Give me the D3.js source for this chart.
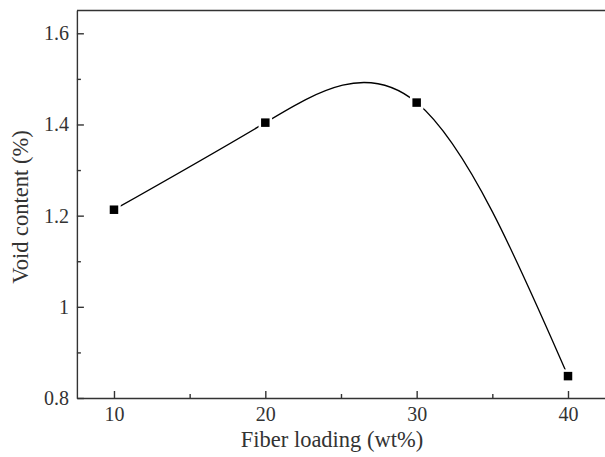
<!DOCTYPE html>
<html>
<head>
<meta charset="utf-8">
<script src="https://cdn.jsdelivr.net/npm/d3@7"></script>
<style>
    body { margin: 0; background: #fff; }
    svg { display: block; font-family: "Liberation Serif", "Times New Roman", serif; }
    .axis path, .axis line { stroke: #333; stroke-width: 1.4; }
    .axis text { font-size: 20px; fill: #333; font-family: "Liberation Serif", serif; }
    .title { font-size: 22.5px; fill: #333; }
</style>
</head>
<body>
<svg width="605" height="457"></svg>
<script>
// data
var loading = [10, 20, 30, 40];
var voidContent = [1.213, 1.404, 1.448, 0.848];

var xMajor = [10, 20, 30, 40],
    xMinor = [15, 25, 35];
var yMajor = [0.8, 1.0, 1.2, 1.4, 1.6],
    yMinor = [0.9, 1.1, 1.3, 1.5];
var yLabels = ["0.8", "1", "1.2", "1.4", "1.6"];

var svg = d3.select("svg"),
    margin = {top: 10.5, left: 77},
    plotBottom = 398;

var x = d3.scaleLinear().domain([7.55, 43]).range([76.9, 613.4]),
    y = d3.scaleLinear().domain([0.8, 1.65]).range([plotBottom, margin.top]);

// frame: top line (right side runs off the page)
svg.append("line")
    .attr("x1", x(7.55)).attr("x2", x(43))
    .attr("y1", y(1.65)).attr("y2", y(1.65))
    .attr("stroke", "#333").attr("stroke-width", 1.4);

// minor ticks
svg.append("g")
    .attr("class", "axis")
    .attr("transform", "translate(0," + plotBottom + ")")
    .call(d3.axisBottom(x).tickValues(xMinor).tickSizeInner(-4).tickSizeOuter(0).tickFormat(""))
    .select(".domain").remove();

svg.append("g")
    .attr("class", "axis")
    .attr("transform", "translate(" + x(7.55) + ",0)")
    .call(d3.axisLeft(y).tickValues(yMinor).tickSizeInner(-4).tickSizeOuter(0).tickFormat(""))
    .select(".domain").remove();

// major axes
svg.append("g")
    .attr("class", "axis")
    .attr("transform", "translate(0," + plotBottom + ")")
    .call(d3.axisBottom(x).tickValues(xMajor).tickSizeInner(-7).tickSizeOuter(0).tickPadding(9))
    .selectAll("text").attr("dy", "0.71em");

svg.append("g")
    .attr("class", "axis")
    .attr("transform", "translate(" + x(7.55) + ",0)")
    .call(d3.axisLeft(y).tickValues(yMajor).tickSizeInner(-7).tickSizeOuter(0).tickPadding(8)
        .tickFormat(function(d, i) { return yLabels[i]; }));

// axis titles
svg.append("text")
    .attr("class", "title")
    .attr("x", 332).attr("y", 446.5)
    .attr("text-anchor", "middle")
    .text("Fiber loading (wt%)");

svg.append("text")
    .attr("class", "title")
    .attr("transform", "translate(28," + 207 + ") rotate(-90)")
    .attr("text-anchor", "middle")
    .text("Void content (%)");

// smooth curve through the points
var pts = loading.map(function(d, i) { return [d, voidContent[i]]; });

var line = d3.line()
    .x(function(d) { return x(d[0]); })
    .y(function(d) { return y(d[1]); })
    .curve(d3.curveNatural);

svg.append("path")
    .datum(pts)
    .attr("d", line)
    .attr("fill", "none")
    .attr("stroke", "#000")
    .attr("stroke-width", 1.3);

// square markers with a small white gap around them
var s = 8.5;
svg.selectAll(".pt")
    .data(pts)
    .enter().append("rect")
    .attr("class", "pt")
    .attr("x", function(d) { return x(d[0]) - s / 2; })
    .attr("y", function(d) { return y(d[1]) - s / 2; })
    .attr("width", s)
    .attr("height", s)
    .attr("fill", "#000")
    .attr("stroke", "#fff")
    .attr("stroke-width", 5)
    .attr("paint-order", "stroke");
</script>
</body>
</html>
